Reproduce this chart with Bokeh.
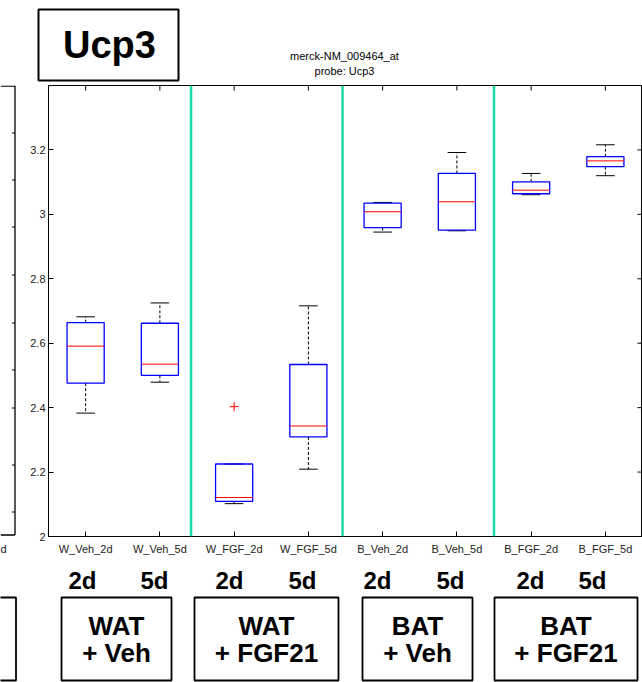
import numpy as np
from bokeh.plotting import figure
from bokeh.models import Range1d, FixedTicker, Span, LinearAxis
from bokeh.layouts import column, row
from bokeh.embed import file_html
from bokeh.resources import INLINE
from bokeh.core.properties import value

# ---------------- data ----------------
categories = ["W_Veh_2d", "W_Veh_5d", "W_FGF_2d", "W_FGF_5d",
              "B_Veh_2d", "B_Veh_5d", "B_FGF_2d", "B_FGF_5d"]
q1 = [2.476, 2.500, 2.109, 2.309, 2.959, 2.951, 3.064, 3.148]
median = [2.591, 2.535, 2.121, 2.343, 3.008, 3.039, 3.075, 3.166]
q3 = [2.664, 2.662, 2.225, 2.534, 3.035, 3.127, 3.101, 3.179]
whisker_low = [2.383, 2.479, 2.102, 2.209, 2.945, 2.949, 3.061, 3.120]
whisker_high = [2.682, 2.725, 2.225, 2.716, 3.037, 3.192, 3.127, 3.216]
outlier_category = ["W_FGF_2d"]
outlier_value = [2.403]
y_ticks = [2.0, 2.2, 2.4, 2.6, 2.8, 3.0, 3.2]
y_tick_labels = ["2", "2.2", "2.4", "2.6", "2.8", "3", "3.2"]
separators = [2.42, 4.46, 6.50]
day_labels = ["2d", "5d", "2d", "5d", "2d", "5d", "2d", "5d"]
group_line1 = ["WAT", "WAT", "BAT", "BAT"]
group_line2 = ["+ Veh", "+ FGF21", "+ Veh", "+ FGF21"]
gene = "Ucp3"
title_lines = ["merck-NM_009464_at", "probe: Ucp3"]
prev_panel_visible_text = "d"

FONT = "Liberation Sans"
GREEN = "#19D9A8"
W = 642
TOP_H = 83
MID_H = 478
BOT_H = 121
LEFT_W = 18
FR_TOP, FR_BOT = 2, 453   # frame rows (local pixels) inside the middle strip

# ---------------- top strip ----------------
top = figure(width=W, height=TOP_H, x_range=Range1d(0, W), y_range=Range1d(TOP_H, 0),
             output_backend="svg", toolbar_location=None, min_border=0,
             x_axis_type=None, y_axis_type=None, outline_line_color=None)
top.grid.visible = False
top.quad(left=[38], right=[178], top=[9], bottom=[80], fill_color=None,
         line_color="black", line_width=2)
top.text(x=[109], y=[44], text=[gene], text_font=value(FONT), text_font_style="bold",
         text_font_size="38px", text_align="center", text_baseline="alphabetic",
         text_color="black")
top.text(x=[344, 344], y=[55, 70], text=title_lines, text_font=value(FONT),
         text_font_size="11px", text_align="center", text_baseline="alphabetic",
         text_color="black")

# ---------------- left partial plot (neighbouring panel, cut off) ----------------
left = figure(width=LEFT_W, height=MID_H, x_range=Range1d(0, LEFT_W),
              y_range=Range1d(FR_BOT, FR_TOP),
              output_backend="svg", toolbar_location=None,
              min_border_left=0, min_border_right=0,
              min_border_top=FR_TOP, min_border_bottom=MID_H - FR_BOT,
              x_axis_type=None, y_axis_type=None, outline_line_color=None)
left.grid.visible = False
left.segment(x0=[14.5, 0, 0], y0=[2, 2.7, 451.5], x1=[14.5, 14.5, 14.5], y1=[451.5, 2.7, 451.5],
             line_color="black", line_width=1.3)
lt = [49.5, 96.5, 143.5, 191.5, 239.5, 286.5, 324.5, 381.5, 428.5]
left.segment(x0=[11.5] * len(lt), x1=[14.5] * len(lt), y0=lt, y1=lt,
             line_color="black", line_width=1)
left_axis = LinearAxis(ticker=FixedTicker(ticks=[3]),
                       major_label_overrides={3: prev_panel_visible_text},
                       axis_line_color=None, major_tick_line_color=None,
                       minor_tick_line_color=None, major_tick_out=0, major_tick_in=0,
                       major_label_standoff=6, major_label_text_font=FONT,
                       major_label_text_font_size="11px", major_label_text_color="#222222")
left.add_layout(left_axis, "below")

# ---------------- main boxplot ----------------
x = list(range(1, len(categories) + 1))
x_start, x_end = 0.5, 8.5
y_start, y_end = 2.0, 3.4
main = figure(width=W - LEFT_W, height=MID_H, x_range=Range1d(x_start, x_end),
              y_range=Range1d(y_start, y_end), output_backend="svg",
              toolbar_location=None, min_border_left=30, min_border_right=0,
              min_border_top=FR_TOP, min_border_bottom=MID_H - FR_BOT,
              outline_line_color="black", outline_line_width=1)
main.grid.visible = False
main.xaxis.ticker = FixedTicker(ticks=x)
main.xaxis.major_label_overrides = {i: c for i, c in zip(x, categories)}
main.yaxis.ticker = FixedTicker(ticks=y_ticks)
main.yaxis.major_label_overrides = {t: l for t, l in zip(y_ticks, y_tick_labels)}
for ax in (main.xaxis, main.yaxis):
    ax.major_tick_in = 5
    ax.major_tick_out = 0
    ax.minor_tick_in = 0
    ax.minor_tick_out = 0
    ax.axis_line_color = "black"
    ax.major_tick_line_color = "black"
    ax.major_label_text_font = FONT
    ax.major_label_text_font_size = "11px"
    ax.major_label_text_color = "#222222"
main.xaxis.major_label_standoff = 6
main.yaxis.major_label_standoff = 3

cap = 0.125
half = 0.25
main.segment(x0=x, x1=x, y0=q3, y1=whisker_high, line_color="black", line_width=1, line_dash="3 2")
main.segment(x0=x, x1=x, y0=q1, y1=whisker_low, line_color="black", line_width=1, line_dash="3 2")
main.segment(x0=[v - cap for v in x], x1=[v + cap for v in x], y0=whisker_high, y1=whisker_high,
             line_color="black", line_width=1)
main.segment(x0=[v - cap for v in x], x1=[v + cap for v in x], y0=whisker_low, y1=whisker_low,
             line_color="black", line_width=1)
main.vbar(x=x, width=2 * half, bottom=q1, top=q3, fill_color=None, line_color="#0000FF", line_width=1.3)
main.segment(x0=[v - half for v in x], x1=[v + half for v in x], y0=median, y1=median,
             line_color="#FF0000", line_width=1)
ox = [categories.index(c) + 1 for c in outlier_category]
main.scatter(x=ox, y=outlier_value, marker="cross", size=9, line_color="#FF0000", line_width=1)
for s in separators:
    main.add_layout(Span(location=s, dimension="height", line_color=GREEN, line_width=2.5))
# inward ticks on the top and right edges
main.scatter(x=x, y=[y_end] * len(x), marker="dash", angle=np.pi / 2, size=10,
             line_color="black", line_width=1)
main.scatter(x=[x_end] * len(y_ticks), y=y_ticks, marker="dash", size=10,
             line_color="black", line_width=1)

# ---------------- bottom strip ----------------
bottom = figure(width=W, height=BOT_H, x_range=Range1d(0, W), y_range=Range1d(BOT_H, 0),
                output_backend="svg", toolbar_location=None, min_border=0,
                x_axis_type=None, y_axis_type=None, outline_line_color=None)
bottom.grid.visible = False
day_x = [82, 154, 229, 302, 377, 450, 530, 592]
bottom.text(x=day_x, y=[19] * len(day_x), text=day_labels, text_font=value(FONT),
            text_font_style="bold", text_font_size="24px", text_align="center",
            text_baseline="alphabetic", text_color="black")
box_l = [-10, 61, 194, 362, 494]
box_r = [15.5, 171, 338, 472, 637]
bottom.quad(left=box_l, right=box_r, top=[36] * 5, bottom=[119] * 5, fill_color=None,
            line_color="black", line_width=1.8)
gx = [(l + r) / 2 for l, r in zip(box_l[1:], box_r[1:])]
bottom.text(x=gx, y=[64] * 4, text=group_line1, text_font=value(FONT), text_font_style="bold",
            text_font_size="26px", text_align="center", text_baseline="alphabetic", text_color="black")
bottom.text(x=gx, y=[91] * 4, text=group_line2, text_font=value(FONT), text_font_style="bold",
            text_font_size="26px", text_align="center", text_baseline="alphabetic", text_color="black")

layout = column(top, row(left, main), bottom)
open("out.html", "w").write(file_html(layout, INLINE))
